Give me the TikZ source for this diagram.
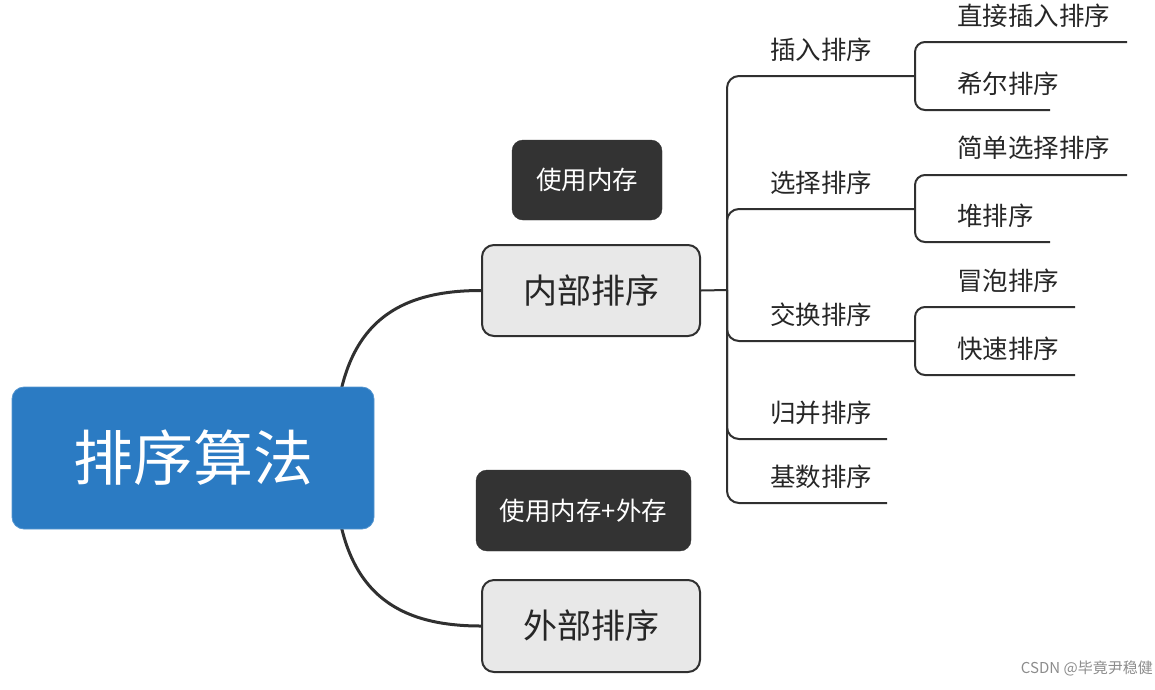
\documentclass[tikz,border=0pt]{standalone}
\usepackage{fontspec}
\setmainfont{Noto Sans CJK SC}
\usetikzlibrary{backgrounds,calc}
\definecolor{lineC}{HTML}{303030}
\definecolor{blueC}{HTML}{2B7BC3}
\definecolor{grayC}{HTML}{E8E8E8}
\definecolor{darkC}{HTML}{333333}
\tikzset{
  rootbox/.style={fill=blueC, draw=blueC!80!white, line width=0.8pt, rounded corners=12pt, text=white, minimum width=362pt, minimum height=142pt, inner sep=0pt, font=\fontsize{60}{66}\selectfont},
  mainbox/.style={fill=grayC, draw=lineC, line width=2pt, rounded corners=12pt, text=black!85, minimum width=218pt, minimum height=91pt, inner sep=0pt, font=\fontsize{34}{40}\selectfont},
  notebox/.style={fill=darkC, draw=darkC, rounded corners=11pt, text=white, minimum height=81pt, inner sep=0pt, font=\fontsize{25.5}{30}\selectfont},
  lab/.style={inner sep=0pt, text=black!85, font=\fontsize{25.5}{30}\selectfont},
  thick conn/.style={draw=lineC, line width=3pt},
  conn/.style={draw=lineC, line width=2pt, rounded corners=12pt},
  subconn/.style={draw=lineC, line width=2pt, rounded corners=10pt},
}
\begin{document}
\begin{tikzpicture}[x=1pt,y=-1pt]
\useasboundingbox (0,0) rectangle (1155,689);
% main nodes
\node[rootbox] (root) at (193,458) {排序算法};
\node[mainbox] (inner) at (591,290.5) {内部排序};
\node[mainbox, minimum height=92pt] (outer) at (591,626) {外部排序};
\node[notebox, minimum width=150pt, minimum height=80pt] (mem) at (587,180) {使用内存};
\node[notebox, minimum width=215pt] (memext) at (583.5,510.5) {使用内存+外存};
% trunk coordinates
\coordinate (trunk) at (727,290);
\coordinate (f1) at (915,76);
\coordinate (f2) at (915,209);
\coordinate (f3) at (915,341);
\coordinate (e4) at (887,439);
\coordinate (e5) at (887,503);
% level-1 labels
\node[lab] (l1) at (821,50) {插入排序};
\node[lab] (l2) at (821,183) {选择排序};
\node[lab] (l3) at (821,315) {交换排序};
\node[lab] (l4) at (821,413) {归并排序};
\node[lab] (l5) at (821,477) {基数排序};
% level-2 labels
\node[lab, anchor=west] (s11) at (957,16) {直接插入排序};
\node[lab, anchor=west] (s12) at (957,84) {希尔排序};
\node[lab, anchor=west] (s21) at (957,148) {简单选择排序};
\node[lab, anchor=west] (s22) at (957,216) {堆排序};
\node[lab, anchor=west] (s31) at (957,281) {冒泡排序};
\node[lab, anchor=west] (s32) at (957,349) {快速排序};
% level-2 ends
\coordinate (g11) at (1127,42);
\coordinate (g12) at (1050,110);
\coordinate (g21) at (1127,175);
\coordinate (g22) at (1050,242);
\coordinate (g31) at (1075,307);
\coordinate (g32) at (1075,375);
% watermark
\node[anchor=east, inner sep=0pt, text=black!45, font=\fontsize{15}{17}\selectfont] (wm) at (1153,668) {CSDN @毕竟尹稳健};
\begin{scope}[on background layer]
  \draw[thick conn] ($(root.east)+(-40,0)$) .. controls ($(root.east)+(-40,-128)$) and ($(inner.west)+(-92,0)$) .. (inner.west);
  \draw[thick conn] ($(root.east)+(-40,0)$) .. controls ($(root.east)+(-40,128)$) and ($(outer.west)+(-92,0)$) .. (outer.west);
\end{scope}
\draw[draw=lineC, line width=2pt] (inner.east) -- (trunk);
\draw[conn] (trunk) |- (f1);
\draw[conn] (trunk) |- (f2);
\draw[conn] (trunk) |- (f3);
\draw[conn] (trunk) |- (e4);
\draw[conn] (trunk) |- (e5);
\draw[subconn] (f1) |- (g11);
\draw[subconn] (f1) |- (g12);
\draw[subconn] (f2) |- (g21);
\draw[subconn] (f2) |- (g22);
\draw[subconn] (f3) |- (g31);
\draw[subconn] (f3) |- (g32);
\end{tikzpicture}
\end{document}
